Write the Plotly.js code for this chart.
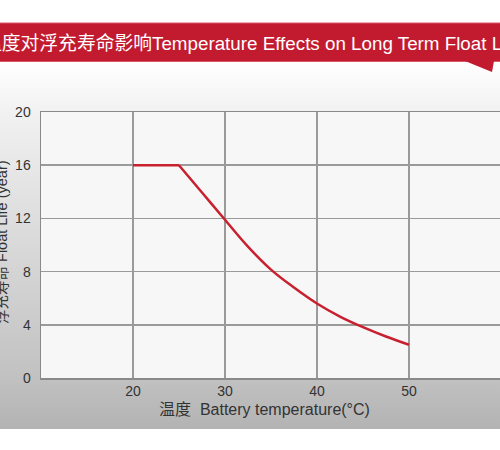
<!DOCTYPE html>
<html>
<head>
<meta charset="utf-8">
<script src="https://cdn.plot.ly/plotly-3.0.1.min.js"></script>
<style>
  html, body { margin: 0; padding: 0; background: #ffffff; }
  #wrap { position: relative; width: 500px; height: 450px; overflow: hidden; }
  #bg { position: absolute; left: 0; top: 62px; width: 500px; height: 367px;
        background: linear-gradient(to bottom, #ffffff 0%, #f1f1f1 14%, #d9d9d9 50%, #c2c2c2 85%, #b3b3b3 100%); }
  #chart { position: absolute; left: 0; top: 0; width: 500px; height: 450px; }
</style>
</head>
<body>
<div id="wrap">
  <div id="bg"></div>
  <div id="chart"></div>
</div>
<script>
// ---- data ----
const flatTemps = [20, 25];
const flatLife = [16, 16];
const curveTemps = [25, 27.5, 30, 32.5, 35, 37.5, 40, 42.5, 45, 47.5, 50];
const curveLife = [16, 13.95, 11.9, 9.88, 8.15, 6.8, 5.6, 4.62, 3.82, 3.12, 2.5];
const xTickVals = [20, 30, 40, 50];
const yTickVals = [0, 4, 8, 12, 16, 20];
const bannerText = "温度对浮充寿命影响Temperature Effects on Long Term Float Life";
const xTitle = "温度  Battery temperature(°C)";
const yTitle = "浮充寿命 Float Life (year)";

// ---- layout geometry (pixels) ----
const M = { l: 41, r: 0, t: 112, b: 72 };
const W = 500, H = 450;
const PW = W - M.l - M.r, PH = H - M.t - M.b;
const px = v => (v - M.l) / PW;
const py = v => (H - M.b - v) / PH;

const red = "#c21b2f";
const font = "Liberation Sans, Arial, Noto Sans CJK SC, sans-serif";

const traces = [
  { x: flatTemps, y: flatLife, mode: "lines", line: { color: "#c8202f", width: 2.5 }, hoverinfo: "skip" },
  { x: curveTemps, y: curveLife, mode: "lines", line: { color: "#c8202f", width: 2.5, shape: "spline", smoothing: 1 }, hoverinfo: "skip" }
];

const layout = {
  width: W, height: H,
  margin: M,
  showlegend: false,
  paper_bgcolor: "rgba(0,0,0,0)",
  plot_bgcolor: "#f7f7f7",
  font: { family: font, color: "#333333", size: 14 },
  xaxis: {
    range: [10, 59.9],
    tickvals: xTickVals,
    ticktext: xTickVals.map(String),
    showgrid: true, gridcolor: "#9a9a9a", gridwidth: 1.5,
    showline: true, linecolor: "#8a8a8a", linewidth: 1.5, mirror: true,
    zeroline: false, ticks: "", ticklabelstandoff: 0,
    tickfont: { size: 14, color: "#333333", family: font },
    fixedrange: true
  },
  yaxis: {
    range: [0, 20],
    tickvals: yTickVals,
    ticktext: yTickVals.map(String),
    showgrid: true, gridcolor: "#9a9a9a", gridwidth: 1.5,
    showline: true, linecolor: "#8a8a8a", linewidth: 1.5,
    zeroline: false, ticks: "", ticklabelstandoff: 6,
    tickfont: { size: 14, color: "#333333", family: font },
    fixedrange: true
  },
  shapes: [
    { type: "rect", xref: "paper", yref: "paper", x0: px(-5), x1: px(505), y0: py(61.5), y1: py(23),
      fillcolor: red, line: { color: "#d9596a", width: 1 }, layer: "above" },
    { type: "path", xref: "paper", yref: "paper",
      path: `M ${px(465)} ${py(61)} L ${px(494)} ${py(61)} L ${px(492)} ${py(72)} Z`,
      fillcolor: red, line: { width: 0 }, layer: "above" }
  ],
  annotations: [
    { text: bannerText, xref: "paper", yref: "paper", x: px(-19.5), y: py(44),
      xanchor: "left", yanchor: "middle", showarrow: false,
      font: { family: font, size: 18.8, color: "#ffffff" } },
    { text: xTitle, xref: "paper", yref: "paper", x: px(264), y: py(409),
      xanchor: "center", yanchor: "middle", showarrow: false,
      font: { family: font, size: 16, color: "#333333" } },
    { text: yTitle, xref: "paper", yref: "paper", x: px(1), y: py(242),
      xanchor: "center", yanchor: "middle", showarrow: false, textangle: -90,
      font: { family: font, size: 14.5, color: "#333333" } }
  ]
};

Plotly.newPlot("chart", traces, layout, { staticPlot: true, displayModeBar: false });
</script>
</body>
</html>
